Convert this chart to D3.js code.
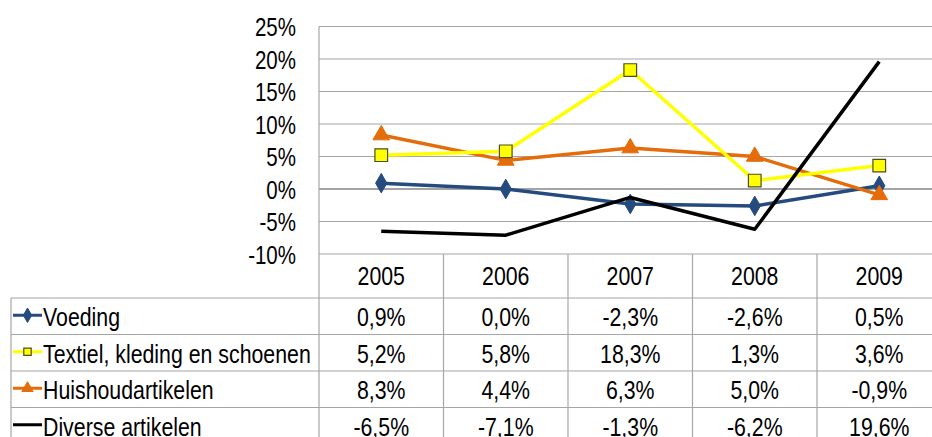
<!DOCTYPE html>
<html lang="nl">
<head>
<meta charset="utf-8">
<title>Omzetontwikkeling</title>
<script src="https://d3js.org/d3.v7.js"></script>
<style>
  body { margin: 0; background: #fff; }
  text { font-family: "Liberation Sans", Arial, sans-serif; fill: #000; }
</style>
</head>
<body>
<script>
var w = 932;
var h = 437;

var years = ["2005", "2006", "2007", "2008", "2009"];
var yTicks = [25, 20, 15, 10, 5, 0, -5, -10];
var seriesNames = ["Voeding", "Textiel, kleding en schoenen", "Huishoudartikelen", "Diverse artikelen"];
var voeding = [0.9, 0.0, -2.3, -2.6, 0.5];
var textiel = [5.2, 5.8, 18.3, 1.3, 3.6];
var huishoud = [8.3, 4.4, 6.3, 5.0, -0.9];
var diverse = [-6.5, -7.1, -1.3, -6.2, 19.6];

var series = [
  {name: seriesNames[0], values: voeding, color: "#254a7d", marker: "diamond"},
  {name: seriesNames[1], values: textiel, color: "#ffff00", marker: "square"},
  {name: seriesNames[2], values: huishoud, color: "#e46c0a", marker: "triangle"},
  {name: seriesNames[3], values: diverse, color: "#000000", marker: "none"}
];

var plotLeft = 319, colW = 124.5;
var plotTop = 26.5, plotBottom = 254;
var rowTop = 298, rowH = 36.5, tableLeft = 11;
var narrow = 0.82; // Arial Narrow ~ Arial squeezed horizontally

var xScale = d3.scaleBand()
  .domain(years)
  .range([plotLeft, plotLeft + colW * years.length]);

var yScale = d3.scaleLinear()
  .domain([-10, 25])
  .range([plotBottom, plotTop]);

var svg = d3.select("body").append("svg")
  .attr("width", w)
  .attr("height", h);

function place(x, y) {
  return "translate(" + x + "," + y + ") scale(" + narrow + ",1)";
}

// gridlines
svg.append("g").selectAll("line")
  .data(yTicks)
  .enter().append("line")
  .attr("x1", plotLeft).attr("x2", w)
  .attr("y1", d => yScale(d)).attr("y2", d => yScale(d))
  .attr("stroke", d => d === 0 ? "#868686" : "#a6a6a6")
  .attr("stroke-width", d => d === 0 ? 1.5 : 1.2);

// y axis labels
svg.append("g").selectAll("text")
  .data(yTicks)
  .enter().append("text")
  .attr("transform", d => place(296, yScale(d) + 9.5))
  .attr("text-anchor", "end")
  .style("font-size", "25px")
  .text(d => d + "%");

// table grid
var grid = svg.append("g").attr("stroke", "#a6a6a6").attr("stroke-width", 1.2);
grid.append("line").attr("x1", plotLeft).attr("x2", plotLeft).attr("y1", plotTop).attr("y2", h);
years.forEach(function (y) {
  var x = xScale(y) + xScale.bandwidth();
  grid.append("line").attr("x1", x).attr("x2", x).attr("y1", plotBottom).attr("y2", h);
});
grid.append("line").attr("x1", tableLeft).attr("x2", tableLeft).attr("y1", rowTop).attr("y2", h);
series.forEach(function (s, i) {
  var y = rowTop + i * rowH;
  grid.append("line").attr("x1", tableLeft).attr("x2", w).attr("y1", y).attr("y2", y);
});

// header
svg.append("g").selectAll("text")
  .data(years)
  .enter().append("text")
  .attr("transform", d => place(xScale(d) + xScale.bandwidth() / 2, 285))
  .attr("text-anchor", "middle")
  .style("font-size", "26px")
  .text(d => d);

function fmt(v) {
  return v.toFixed(1).replace(".", ",") + "%";
}

var symbols = {
  diamond: d3.symbolDiamond,
  square: d3.symbolSquare,
  triangle: d3.symbolTriangle
};

function addMarker(g, s, x, y, size) {
  if (s.marker === "none") return;
  g.append("path")
    .attr("transform", "translate(" + x + "," + y + ")")
    .attr("d", d3.symbol().type(symbols[s.marker]).size(size)())
    .attr("fill", s.color)
    .attr("stroke", s.marker === "square" ? "#4d4d1a" : s.color)
    .attr("stroke-width", s.marker === "square" ? 1.2 : 1);
}

// table rows
series.forEach(function (s, i) {
  var yMid = rowTop + i * rowH + rowH / 2;
  var g = svg.append("g");
  g.append("line")
    .attr("x1", 13).attr("x2", 42)
    .attr("y1", yMid - 1).attr("y2", yMid - 1)
    .attr("stroke", s.color).attr("stroke-width", 3);
  addMarker(g, s, 27.5, yMid - 1, s.marker === "diamond" ? 60 : 55);
  g.append("text")
    .attr("transform", place(43, yMid + 10))
    .style("font-size", "26px")
    .text(s.name);
  g.selectAll("text.val")
    .data(s.values)
    .enter().append("text")
    .attr("class", "val")
    .attr("transform", (d, j) => place(xScale(years[j]) + xScale.bandwidth() / 2, yMid + 10))
    .attr("text-anchor", "middle")
    .style("font-size", "26px")
    .text(d => fmt(d));
});

// lines
var line = d3.line()
  .x((d, j) => xScale(years[j]) + xScale.bandwidth() / 2)
  .y(d => yScale(d));

var drawOrder = [0, 2, 1, 3];
drawOrder.forEach(function (i) {
  var s = series[i];
  var g = svg.append("g");
  g.append("path")
    .datum(s.values)
    .attr("d", line)
    .attr("fill", "none")
    .attr("stroke", s.color)
    .attr("stroke-width", 3.5)
    .attr("stroke-linejoin", "round");
  s.values.forEach(function (v, j) {
    addMarker(g, s, xScale(years[j]) + xScale.bandwidth() / 2, yScale(v),
      s.marker === "square" ? 160 : (s.marker === "diamond" ? 110 : 120));
  });
});
</script>
</body>
</html>
